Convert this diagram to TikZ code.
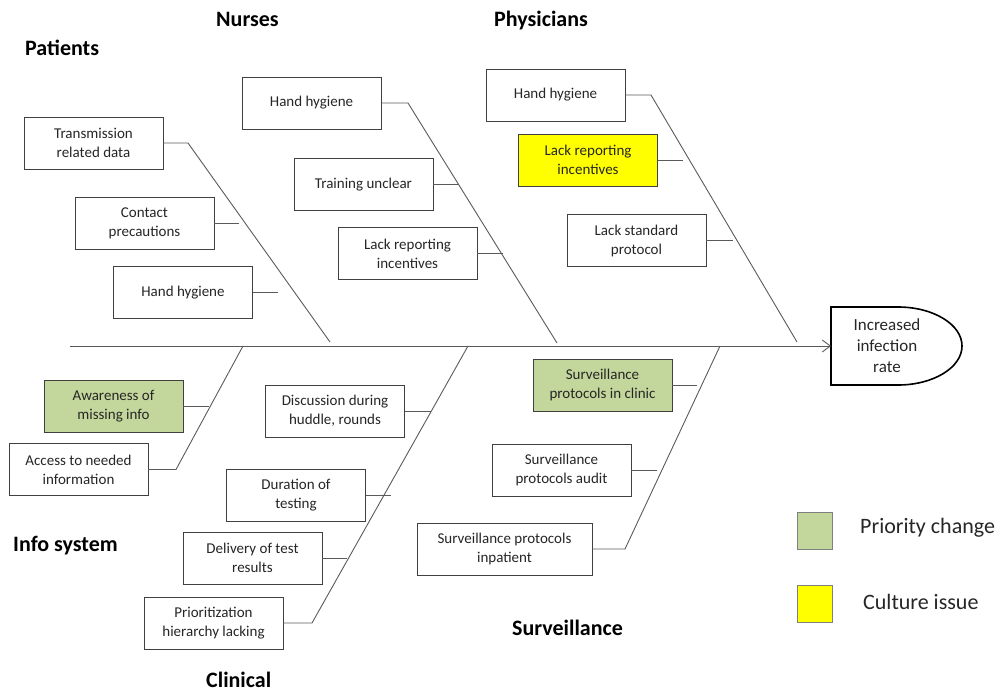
\documentclass[tikz,border=0pt]{standalone}
\usepackage{fontspec}
\setmainfont{Carlito}
\usetikzlibrary{arrows.meta}
\definecolor{boneline}{HTML}{5A5A5A}
\definecolor{boxline}{HTML}{404040}
\definecolor{prio}{HTML}{C3D69B}
\definecolor{culture}{HTML}{FFFF00}
\definecolor{inktext}{HTML}{262626}
\tikzset{
  cause/.style={draw=boxline, line width=0.9pt, fill=white, minimum width=139, minimum height=52,
    inner sep=2pt, align=center, text=inktext, font=\fontsize{15}{19}\selectfont},
  prioritybox/.style={cause, fill=prio},
  culturebox/.style={cause, fill=culture},
  bone/.style={draw=boneline, line width=0.9pt},
  category/.style={anchor=base west, inner sep=0pt, font=\fontsize{22}{26}\selectfont\bfseries},
  legendkey/.style={draw=gray, line width=0.9pt, minimum width=35, minimum height=37, inner sep=0pt},
  legendtext/.style={anchor=base west, inner sep=0pt, text=inktext, font=\fontsize{22}{26}\selectfont},
}
\begin{document}
\begin{tikzpicture}[x=1pt, y=-1pt]
\useasboundingbox (0,0) rectangle (1004,693);

% category headings
\node[category] (tPat) at (25,56) {Patients};
\node[category] (tNur) at (216,27) {Nurses};
\node[category] (tPhy) at (494,27) {Physicians};
\node[category] (tInf) at (13,551) {Info system};
\node[category] (tCli) at (206,687) {Clinical};
\node[category] (tSur) at (512,635) {Surveillance};

% effect
\coordinate (tip) at (831,346);
\coordinate (tail) at (70,346);
\draw[line width=1.6pt] (831,307) -- (898,307)
  arc[start angle=90, end angle=-90, x radius=64pt, y radius=39pt] -- (831,385) -- cycle;
\node[align=center, text=inktext, font=\fontsize{17}{21}\selectfont] (effect) at (887,346)
  {Increased\\infection\\rate};
\draw[bone, -{Straight Barb[length=8pt, width=12pt]}] (tail) -- (tip);

% Patients
\node[cause] (p1) at (93.5,143) {Transmission\\related data};
\node[cause] (p2) at (144.5,223) {Contact\\precautions};
\node[cause] (p3) at (183,292.5) {Hand hygiene};
\coordinate (pk) at (188,143);
\coordinate (pe) at (330,342);
\coordinate (p2s) at (239,223);
\coordinate (p3s) at (278,292.5);
\draw[bone] (p1.east) -- (pk) -- (pe);
\draw[bone] (p2.east) -- (p2s);
\draw[bone] (p3.east) -- (p3s);

% Nurses
\node[cause] (n1) at (311.5,103) {Hand hygiene};
\node[cause] (n2) at (363.5,184.5) {Training unclear};
\node[cause] (n3) at (407.5,253.5) {Lack reporting\\incentives};
\coordinate (nk) at (408,103);
\coordinate (ne) at (557,343);
\coordinate (n2s) at (458,184.5);
\coordinate (n3s) at (503,253.5);
\draw[bone] (n1.east) -- (nk) -- (ne);
\draw[bone] (n2.east) -- (n2s);
\draw[bone] (n3.east) -- (n3s);

% Physicians
\node[cause] (h1) at (555.5,95) {Hand hygiene};
\node[culturebox] (h2) at (588,160) {Lack reporting\\incentives};
\node[cause] (h3) at (636.5,240.5) {Lack standard\\protocol};
\coordinate (hk) at (651,95);
\coordinate (he) at (797,342);
\coordinate (h2s) at (683,160);
\coordinate (h3s) at (733,240.5);
\draw[bone] (h1.east) -- (hk) -- (he);
\draw[bone] (h2.east) -- (h2s);
\draw[bone] (h3.east) -- (h3s);

% Info system
\node[prioritybox] (i1) at (113.5,406) {Awareness of\\missing info};
\node[cause] (i2) at (78.5,469.5) {Access to needed\\information};
\coordinate (ik) at (176,469.5);
\coordinate (ie) at (243,346);
\coordinate (i1s) at (209,406);
\draw[bone] (i2.east) -- (ik) -- (ie);
\draw[bone] (i1.east) -- (i1s);

% Clinical
\node[cause] (c1) at (335,411) {Discussion during\\huddle, rounds};
\node[cause] (c2) at (296,495.5) {Duration of\\testing};
\node[cause] (c3) at (252.5,558) {Delivery of test\\results};
\node[cause] (c4) at (213.5,623) {Prioritization\\hierarchy lacking};
\coordinate (ck) at (312,623);
\coordinate (ce) at (468,346);
\coordinate (c1s) at (431,411);
\coordinate (c2s) at (391,495.5);
\coordinate (c3s) at (347,558);
\draw[bone] (c4.east) -- (ck) -- (ce);
\draw[bone] (c1.east) -- (c1s);
\draw[bone] (c2.east) -- (c2s);
\draw[bone] (c3.east) -- (c3s);

% Surveillance
\node[prioritybox] (s1) at (602.5,385) {Surveillance\\protocols in clinic};
\node[cause] (s2) at (561.5,470) {Surveillance\\protocols audit};
\node[cause, minimum width=175] (s3) at (504.5,549) {Surveillance protocols\\inpatient};
\coordinate (sk) at (625,549);
\coordinate (se) at (720,346);
\coordinate (s1s) at (697,385);
\coordinate (s2s) at (657,470);
\draw[bone] (s3.east) -- (sk) -- (se);
\draw[bone] (s1.east) -- (s1s);
\draw[bone] (s2.east) -- (s2s);

% legend
\node[legendkey, fill=prio] (kPrio) at (814.5,530.5) {};
\node[legendkey, fill=culture] (kCult) at (814.5,603.5) {};
\node[legendtext] (lPrio) at (860,533) {Priority change};
\node[legendtext] (lCult) at (863,609) {Culture issue};
\end{tikzpicture}
\end{document}
